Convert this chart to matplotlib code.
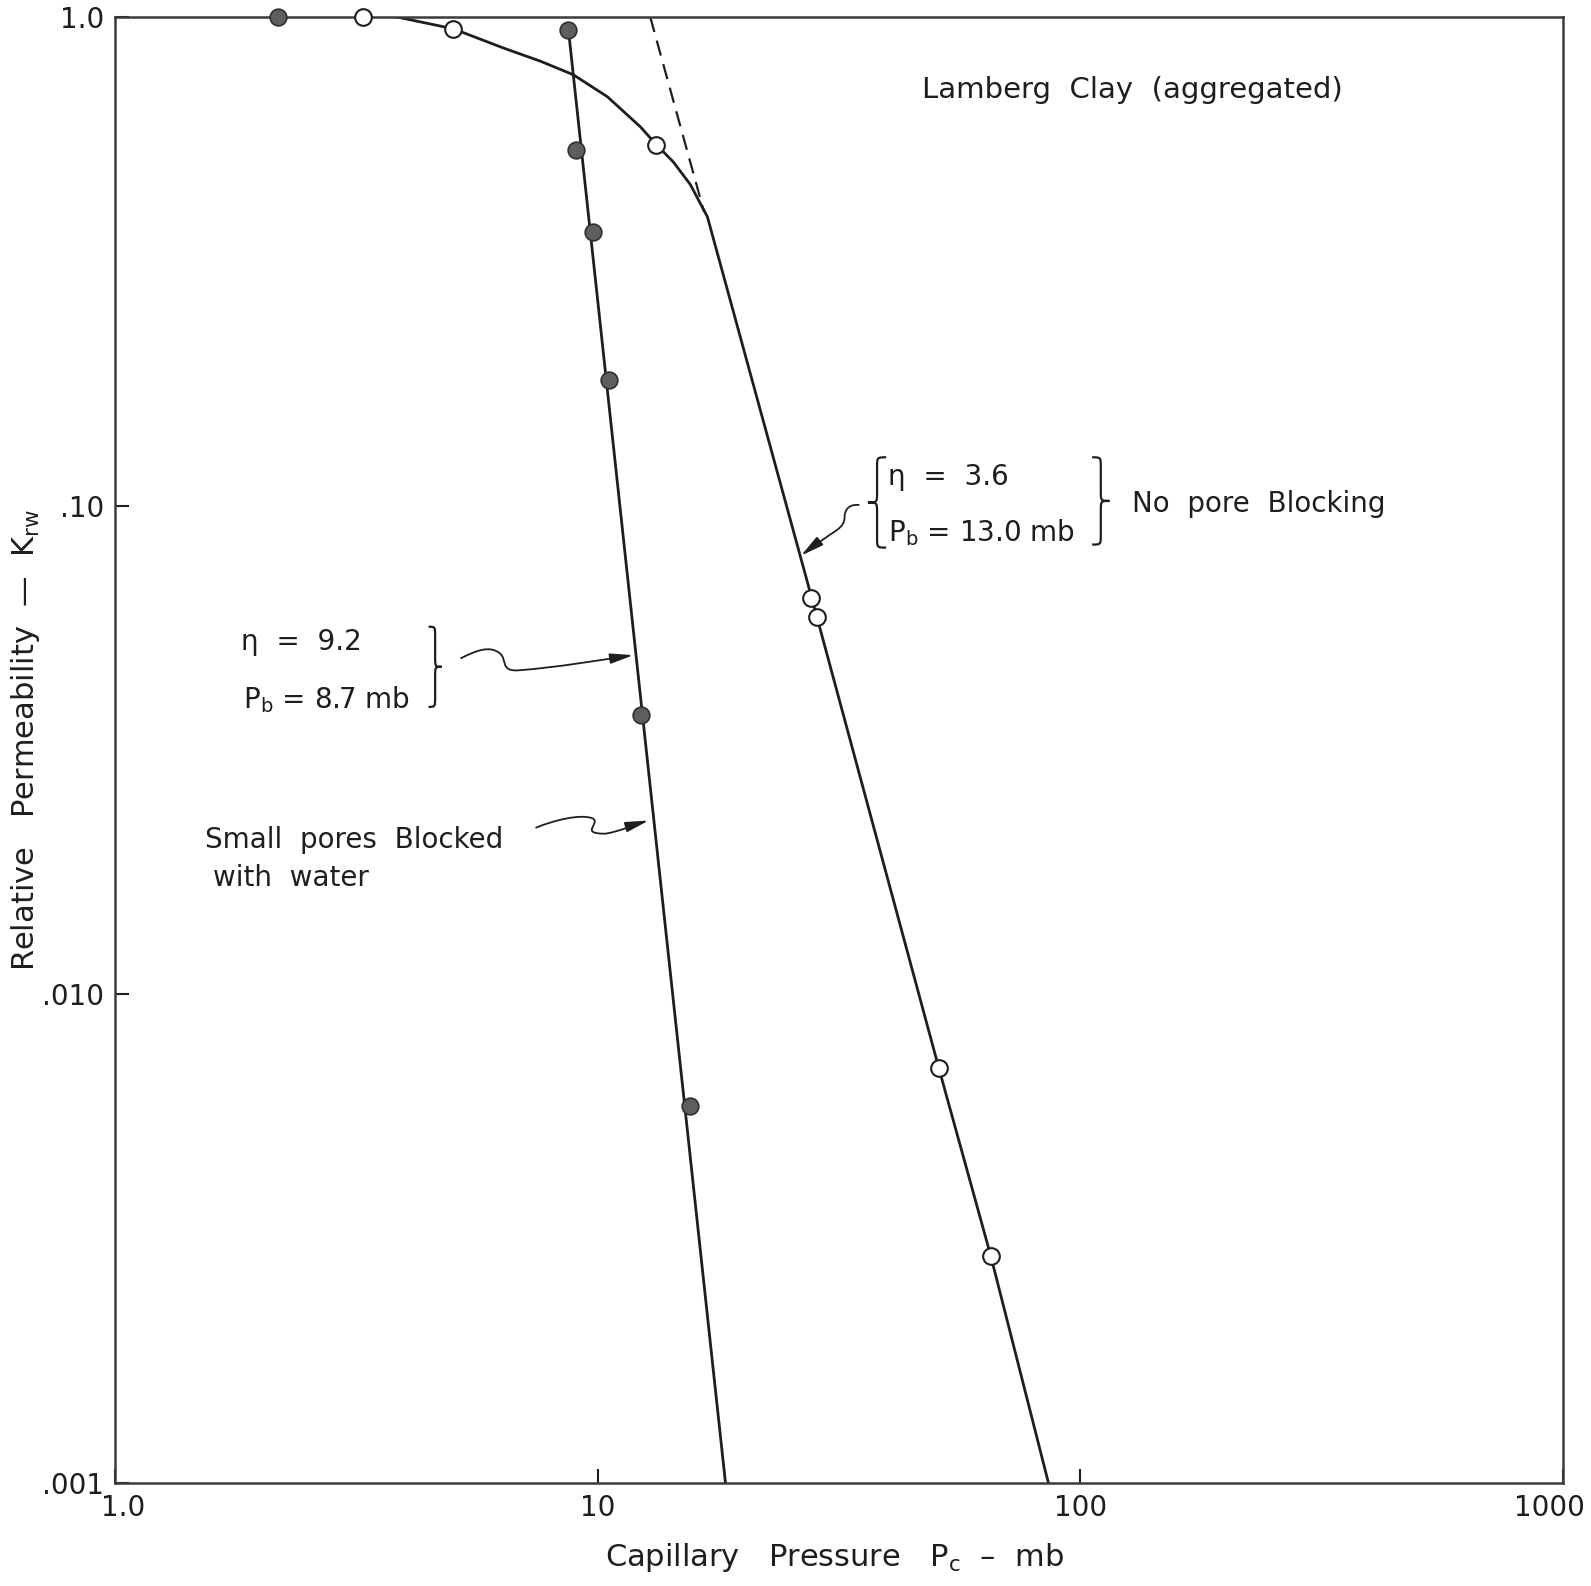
import matplotlib
matplotlib.use("Agg")
import matplotlib.pyplot as plt
import matplotlib.transforms as mtransforms
from matplotlib.path import Path
from matplotlib.patches import FancyArrowPatch, PathPatch
from matplotlib.ticker import NullLocator

# Small pores blocked with water (filled points)
blocked_pc = [2.18, 8.70, 9.00, 9.78, 10.56, 12.3, 15.5]
blocked_krw = [1.0, 0.94, 0.535, 0.363, 0.181, 0.0373, 0.00592]
blocked_line_pc = [8.70, 18.4]
blocked_line_krw = [0.94, 0.001]

# No pore blocking (open points)
open_pc = [3.27, 5.02, 13.23, 27.7, 28.5, 50.9, 65.2]
open_krw = [1.0, 0.946, 0.548, 0.0646, 0.0593, 0.00707, 0.00292]
open_line_pc = [3.84, 5.02, 6.38, 7.61, 8.90, 10.47, 12.26, 13.23, 14.35, 15.56,
                16.88, 28.1, 50.9, 65.2, 85.9]
open_line_krw = [1.0, 0.946, 0.864, 0.812, 0.762, 0.687, 0.596, 0.548, 0.505, 0.454,
                 0.390, 0.062, 0.00707, 0.00292, 0.001]

# dashed extension of the straight part
dash_pc = [12.85, 16.6]
dash_krw = [1.0, 0.40]

x_ticks = [1, 10, 100, 1000]
x_tick_labels = ["1.0", "10", "100", "1000"]
y_ticks = [0.001, 0.01, 0.1, 1.0]
y_tick_labels = [".001", ".010", ".10", "1.0"]

INK = "#1e1e1e"
FS = 20

plt.rcParams["font.family"] = ["DejaVu Sans"]
plt.rcParams["mathtext.fontset"] = "dejavusans"


def ref(x, y):
    # pixel position on the reference drawing -> axes fraction
    return (x - 113) / 1427, 1 - (y - 17) / 1445


def squiggle(ax, pts):
    verts = [ref(*p) for p in pts]
    codes = [Path.MOVETO] + [Path.CURVE4] * (len(pts) - 1)
    arr = FancyArrowPatch(path=Path(verts, codes),
                          arrowstyle="-|>,head_length=1.0,head_width=0.22",
                          mutation_scale=14, lw=1.3, color=INK,
                          transform=ax.transAxes, clip_on=False)
    ax.add_patch(arr)


def brace(ax, x_tip, x_end, y0, y1, r=10):
    xm = (x_tip + x_end) / 2
    ym = (y0 + y1) / 2
    pts = [(x_end, y0), (xm, y0), (xm, y0), (xm, y0 + r),
           (xm, ym - r),
           (xm, ym), (xm, ym), (x_tip, ym),
           (xm, ym), (xm, ym), (xm, ym + r),
           (xm, y1 - r),
           (xm, y1), (xm, y1), (x_end, y1)]
    codes = ([Path.MOVETO] + [Path.CURVE4] * 3 + [Path.LINETO] + [Path.CURVE4] * 6
             + [Path.LINETO] + [Path.CURVE4] * 3)
    ax.add_patch(PathPatch(Path([ref(*p) for p in pts], codes), fill=False,
                           lw=1.6, color=INK, transform=ax.transAxes))


fig = plt.figure(figsize=(15.91, 15.86), dpi=100)
ax = fig.add_axes([115 / 1591, 103 / 1586, 1448 / 1591, 1466 / 1586])
ax.set_xscale("log")
ax.set_yscale("log")
ax.set_xlim(1, 1000)
ax.set_ylim(0.001, 1.0)

ax.plot(blocked_line_pc, blocked_line_krw, color=INK, lw=2.0)
ax.plot(open_line_pc, open_line_krw, color=INK, lw=2.0)
ax.plot(dash_pc, dash_krw, color=INK, lw=1.6, linestyle=(0, (7, 4)))

ax.plot(blocked_pc, blocked_krw, "o", ms=12, mfc="#5e5e5e", mec="#303030",
        mew=1.2, clip_on=False, zorder=5)
ax.plot(open_pc, open_krw, "o", ms=12, mfc="white", mec=INK,
        mew=1.5, clip_on=False, zorder=5)

ax.set_xticks(x_ticks)
ax.set_xticklabels(x_tick_labels)
ax.set_yticks(y_ticks)
ax.set_yticklabels(y_tick_labels)
ax.xaxis.set_minor_locator(NullLocator())
ax.yaxis.set_minor_locator(NullLocator())
ax.tick_params(direction="in", length=10, width=1.5, labelsize=FS, pad=8,
               colors=INK)
# nudge the end labels inward like the original
xlabels = ax.get_xticklabels()
for lab, dx in ((xlabels[0], 8), (xlabels[-1], -14)):
    lab.set_transform(lab.get_transform()
                      + mtransforms.ScaledTranslation(dx / 100, 0, fig.dpi_scale_trans))
for s in ax.spines.values():
    s.set_color("#3a3a3a")
    s.set_linewidth(1.8)

ax.text(*ref(822, 1535), "Capillary   Pressure   P$_{\\mathrm{c}}$  –  mb", fontsize=22,
        ha="center", va="center", color=INK, transform=ax.transAxes, clip_on=False)
ax.text(*ref(25, 730), "Relative   Permeability  —  K$_{\\mathrm{rw}}$", fontsize=22,
        rotation=90, ha="center", va="center", color=INK,
        transform=ax.transAxes, clip_on=False)

notes = [
    (908, 97, "Lamberg  Clay  (aggregated)", 21),
    (875, 478, "η  =  3.6", FS),
    (875, 534, "P$_{\\mathrm{b}}$ = 13.0 mb", FS),
    (1115, 505, "No  pore  Blocking", FS),
    (237, 641, "η  =  9.2", FS),
    (239, 698, "P$_{\\mathrm{b}}$ = 8.7 mb", FS),
    (202, 836, "Small  pores  Blocked", FS),
    (210, 874, "with  water", FS),
]
for x, y, s, fs in notes:
    ax.text(*ref(x, y), s, fontsize=fs, ha="left", va="baseline", color=INK,
            transform=ax.transAxes)

brace(ax, 855, 873, 451, 540)
brace(ax, 1093, 1076, 451, 537)
brace(ax, 435, 422, 618, 697)

squiggle(ax, [(454, 649), (468, 642), (482, 636), (492, 644), (500, 650), (492, 662),
              (510, 661), (550, 658), (590, 651), (624, 646)])
squiggle(ax, [(528, 816), (545, 809), (572, 802), (584, 807), (592, 812), (570, 822),
              (596, 822), (610, 820), (625, 813), (639, 809)])
squiggle(ax, [(846, 498), (836, 497), (832, 503), (832, 510), (832, 518), (826, 522),
              (818, 527), (808, 534), (798, 541), (789, 548)])

fig.savefig("out.png", dpi=100)
